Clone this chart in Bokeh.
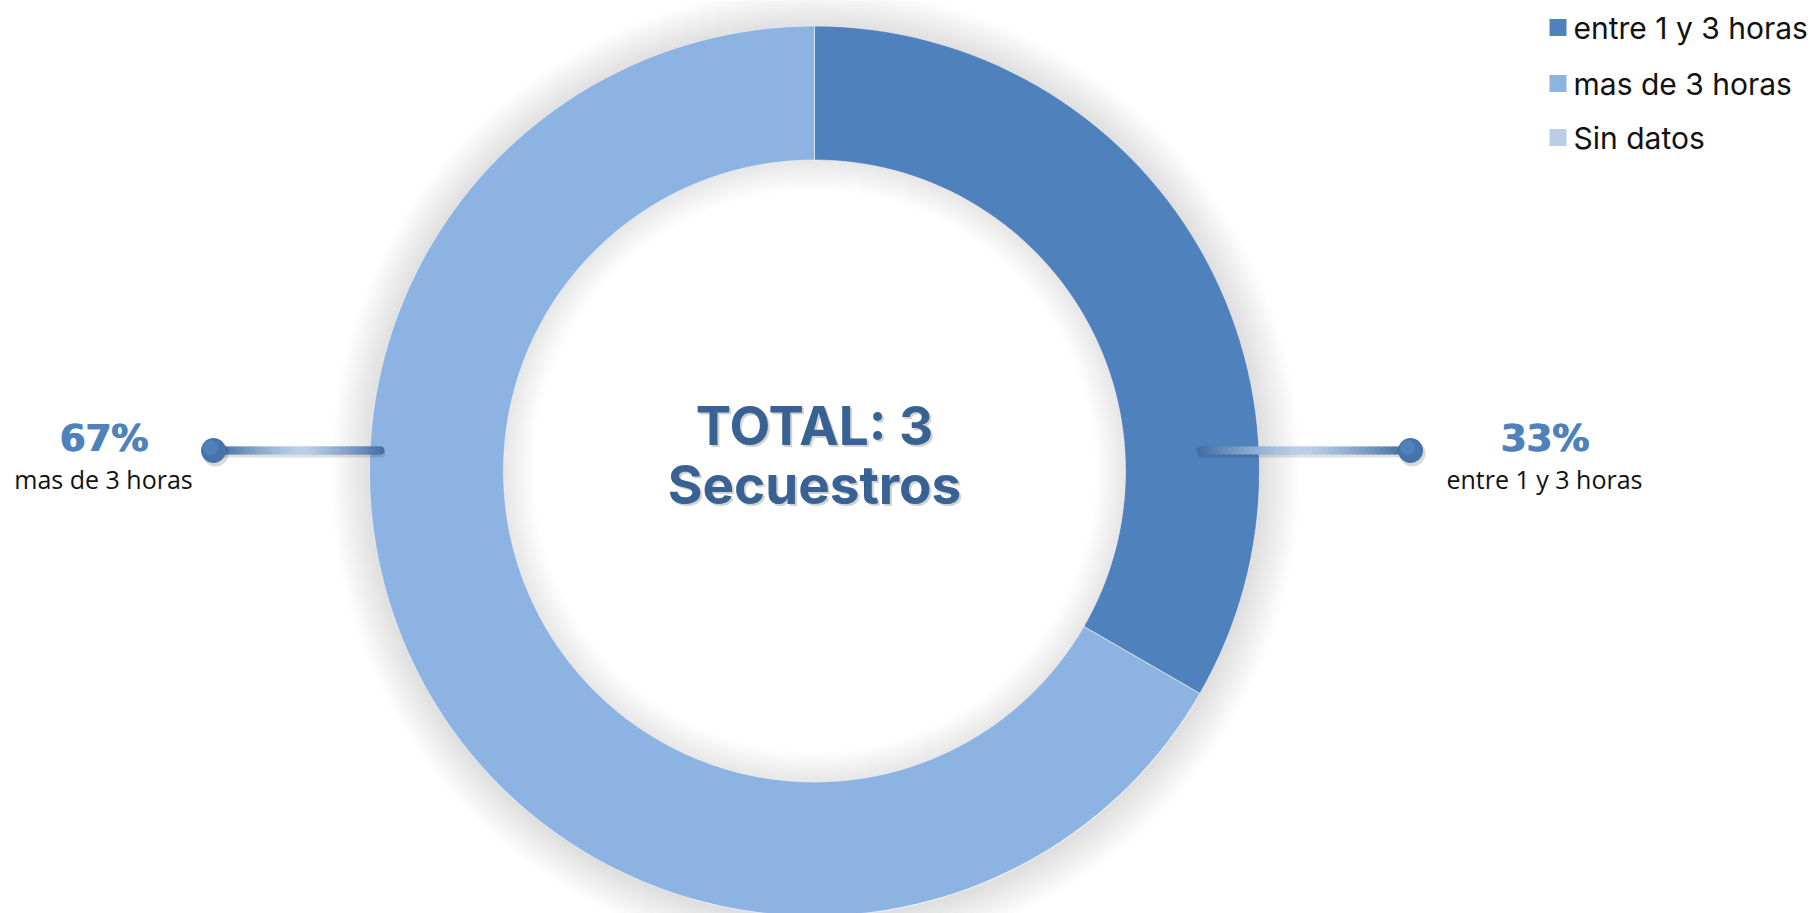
import numpy as np
from bokeh.plotting import figure
from bokeh.models import Range1d, ColumnDataSource
from bokeh.core.properties import value
from bokeh.embed import file_html
from bokeh.resources import INLINE

# ---- data ----
categories = ["entre 1 y 3 horas", "mas de 3 horas", "Sin datos"]
counts = [1, 2, 0]
colors = ["#4F81BD", "#8DB3E2", "#B9CDE5"]
center_lines = ["TOTAL: 3", "Secuestros"]

# ---- layout (screen px of the 1819x913 window) ----
W, H, OFF, SH = 1819, 913, 0, 913
def Y(sy):
    return SH - sy

p = figure(width=W, height=H, x_range=Range1d(OFF, OFF + W),
           y_range=Range1d(SH - OFF - H, SH - OFF),
           output_backend="svg", toolbar_location=None, min_border=0)
p.axis.visible = False
p.grid.visible = False
p.outline_line_color = None
p.background_fill_color = "white"
p.border_fill_color = "white"

cx, cy = 814, Y(470.5)
R_out, R_in = 445, 311

# soft shadows
for i in range(16):
    p.annulus(x=cx + 1, y=cy - 2, inner_radius=R_out - 2, outer_radius=R_out + 2.5 * (i + 1),
              fill_color="black", fill_alpha=0.008, line_color=None)
for i in range(12):
    p.annulus(x=cx, y=cy, inner_radius=R_in - 2.5 * (i + 1), outer_radius=R_in + 2,
              fill_color="black", fill_alpha=0.006, line_color=None)

# donut
total = sum(counts)
fr = np.array(counts, dtype=float) / total
cum = np.concatenate([[0], np.cumsum(fr)])
starts = np.pi / 2 - 2 * np.pi * cum[:-1]
ends = np.pi / 2 - 2 * np.pi * cum[1:]
keep = [i for i in range(len(counts)) if counts[i] > 0]
src = ColumnDataSource(dict(start=[starts[i] for i in keep], end=[ends[i] for i in keep],
                            color=[colors[i] for i in keep]))
p.annular_wedge(x=cx, y=cy, inner_radius=R_in, outer_radius=R_out, start_angle="start",
                end_angle="end", direction="clock", fill_color="color",
                line_color="white", line_alpha=0.5, line_width=1, source=src)

# center text
for k, (txt, sy) in enumerate(zip(center_lines, [425, 484])):
    p.text(x=[cx + 2], y=[Y(sy) - 2], text=[txt], text_font=value("Inter"), text_font_style="bold",
           text_font_size="53px", text_color="#7f7f7f", text_alpha=0.35,
           text_align="center", text_baseline="middle")
    p.text(x=[cx], y=[Y(sy)], text=[txt], text_font=value("Inter"), text_font_style="bold",
           text_font_size="53px", text_color="#386293",
           text_align="center", text_baseline="middle")

# leader lines + labels
def lerp(c1, c2, t):
    a = [int(c1[i:i + 2], 16) for i in (1, 3, 5)]
    b = [int(c2[i:i + 2], 16) for i in (1, 3, 5)]
    return "#%02x%02x%02x" % tuple(int(round(a[j] + (b[j] - a[j]) * t)) for j in range(3))

leader = {"right": (1200, 1410, 1544), "left": (380, 213, 103)}
ly = Y(450)
for i in keep:
    mid = (starts[i] + ends[i]) / 2
    side = "right" if np.cos(mid) > 0 else "left"
    x0, x1, lx = leader[side]
    # shadow
    p.segment(x0=[x0 + 1], y0=[ly - 3], x1=[x1 + 1], y1=[ly - 3], line_color="black",
              line_alpha=0.12, line_width=8, line_cap="round")
    n = 40
    xs = np.linspace(x0, x1, n + 1)
    segc = [lerp("#3F6CA3", "#BCD0E8", 1 - abs(2 * ((k + 0.5) / n) - 1) ** 1.3) for k in range(n)]
    p.segment(x0=xs[:-1], y0=[ly] * n, x1=xs[1:], y1=[ly] * n, line_color=segc,
              line_width=8, line_cap="round")
    p.scatter(x=[x1 + 2], y=[ly - 3], size=26, fill_color="black", fill_alpha=0.15, line_color=None)
    p.scatter(x=[x1], y=[ly], size=25, fill_color="#4573AC", line_color=None)
    p.scatter(x=[x1 - 3], y=[ly + 3], size=15, fill_color="#5B89C2", fill_alpha=0.6, line_color=None)
    pct = "%d%%" % round(100 * fr[i])
    for dx in (0, 1.2):
        p.text(x=[lx + dx], y=[Y(438)], text=[pct], text_font=value("DejaVu Sans"),
               text_font_style="bold", text_font_size="37px", text_color="#4F81BD",
               text_align="center", text_baseline="middle")
    p.text(x=[lx], y=[Y(478)], text=[categories[i]], text_font=value("Open Sans"),
           text_font_size="25px", text_color="#111111", text_align="center", text_baseline="middle")

# legend
leg_y = [Y(27), Y(83), Y(137)]
p.rect(x=[1557.5] * 3, y=leg_y, width=17, height=17, fill_color=colors, line_color=None)
p.text(x=[1573] * 3, y=leg_y, text=categories, text_font=value("Inter"), text_font_style="normal",
       text_font_size="30px", text_color="#111111", text_align="left", text_baseline="middle")

open("out.html", "w").write(file_html(p, INLINE))
